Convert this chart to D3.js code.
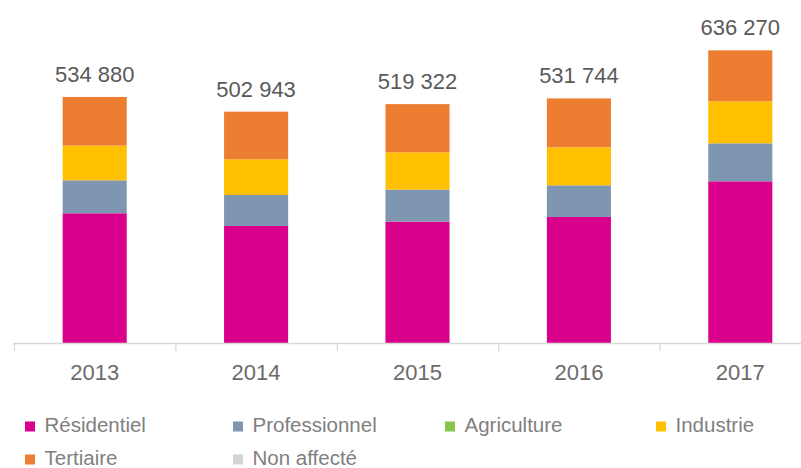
<!DOCTYPE html>
<html>
<head>
<meta charset="utf-8">
<script src="https://cdn.jsdelivr.net/npm/d3@7"></script>
<style>
  html, body { margin: 0; padding: 0; background: #fff; }
  svg { display: block; }
  text { font-family: "Liberation Sans", Arial, sans-serif; }
</style>
</head>
<body>
<svg id="chart" width="801" height="468"></svg>
<script>
// Years on the x axis
const years = ["2013", "2014", "2015", "2016", "2017"];

// Series, stacked bottom to top
const residentiel   = [282000, 254400, 263900, 273900, 351500];
const professionnel = [71700, 67400, 69600, 68900, 82600];
const agriculture   = [0, 0, 0, 0, 0];
const industrie     = [75400, 77600, 81100, 82600, 91300];
const tertiaire     = [105780, 103543, 104722, 106344, 110870];
const nonAffecte    = [0, 0, 0, 0, 0];

const seriesNames = ["Résidentiel", "Professionnel", "Agriculture", "Industrie", "Tertiaire", "Non affecté"];
const seriesValues = [residentiel, professionnel, agriculture, industrie, tertiaire, nonAffecte];
const seriesColors = ["#d9008b", "#7f96b0", "#86c64a", "#ffc000", "#ed7d31", "#d3d3d3"];

// Rows for d3.stack
const rows = years.map((yr, i) => {
  const r = { year: yr };
  seriesNames.forEach((n, k) => { r[n] = seriesValues[k][i]; });
  return r;
});

const svg = d3.select("#chart");

const x = d3.scaleBand()
  .domain(years)
  .range([14, 821])
  .paddingInner(0.603)
  .paddingOuter(0.3015);

const y = d3.scaleLinear()
  .domain([0, 700000])
  .range([343, 343 - 700000 / 2174]);

const stack = d3.stack().keys(seriesNames);
const layers = stack(rows);

// Bars
svg.append("g")
  .selectAll("g")
  .data(layers)
  .join("g")
  .attr("fill", (d, i) => seriesColors[i])
  .selectAll("rect")
  .data(d => d)
  .join("rect")
  .attr("x", d => x(d.data.year))
  .attr("width", x.bandwidth())
  .attr("y", d => y(d[1]))
  .attr("height", d => y(d[0]) - y(d[1]));

// Baseline with category separators
const axisG = svg.append("g").attr("stroke", "#d9d9d9").attr("stroke-width", 1.3);
axisG.append("line")
  .attr("x1", 13).attr("x2", 801)
  .attr("y1", y(0) + 0.5).attr("y2", y(0) + 0.5);
const bounds = d3.range(years.length).map(i => x.range()[0] + i * x.step());
axisG.selectAll("line.sep")
  .data(bounds)
  .join("line")
  .attr("class", "sep")
  .attr("x1", d => d + 0.5).attr("x2", d => d + 0.5)
  .attr("y1", y(0)).attr("y2", y(0) + 8);

// Year labels
svg.append("g")
  .selectAll("text")
  .data(years)
  .join("text")
  .attr("x", d => x(d) + x.bandwidth() / 2)
  .attr("y", 380)
  .attr("text-anchor", "middle")
  .attr("font-size", 22)
  .attr("fill", "#6b6b6b")
  .text(d => d);

// Totals above each bar
const fr = d3.formatLocale({ decimal: ",", thousands: "\u00a0", grouping: [3], currency: ["", " €"] });
const fmt = fr.format(",d");
const topLayer = layers[layers.length - 1];
svg.append("g")
  .selectAll("text")
  .data(topLayer)
  .join("text")
  .attr("x", d => x(d.data.year) + x.bandwidth() / 2)
  .attr("y", d => y(d[1]) - 15)
  .attr("text-anchor", "middle")
  .attr("font-size", 22)
  .attr("fill", "#5a5a5a")
  .text(d => fmt(d[1]));

// Legend
const legendPos = [
  [25, 432], [233, 432], [445, 432], [656, 432],
  [25, 465], [233, 465]
];
const lg = svg.append("g")
  .selectAll("g")
  .data(seriesNames)
  .join("g")
  .attr("transform", (d, i) => `translate(${legendPos[i][0]},${legendPos[i][1]})`);
lg.append("rect")
  .attr("x", 0).attr("y", -10.5)
  .attr("width", 10).attr("height", 10)
  .attr("fill", (d, i) => seriesColors[i]);
lg.append("text")
  .attr("x", 19.5)
  .attr("y", 0)
  .attr("font-size", 20.5)
  .attr("fill", "#7f7f7f")
  .text(d => d);
</script>
</body>
</html>
